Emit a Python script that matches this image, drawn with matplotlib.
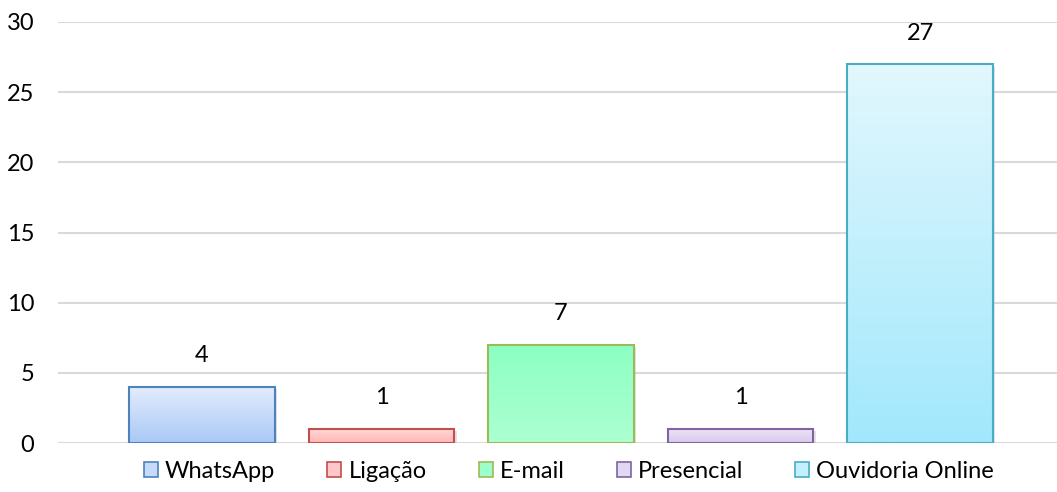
import numpy as np
import matplotlib
matplotlib.use("Agg")
import matplotlib.pyplot as plt
from matplotlib.colors import to_rgb
from matplotlib.patches import Patch

plt.rcParams['font.family'] = ['Lato', 'DejaVu Sans']

categorias = ["WhatsApp", "Ligação", "E-mail", "Presencial", "Ouvidoria Online"]
valores = [4, 1, 7, 1, 27]

# cores (topo, base, borda)
topo = ["#E3ECFB", "#FFD9D9", "#8CFFC2", "#ECE5F6", "#E2F7FE"]
base = ["#A9C9F7", "#FFB5B5", "#ACFFD2", "#D8CAEE", "#A2E8FC"]
borda = ["#4F81BD", "#C0504D", "#9BBB59", "#8064A2", "#4BACC6"]

fig = plt.figure(figsize=(10.57, 4.92), dpi=100)
ax = fig.add_axes([58 / 1057, 49 / 492, 999 / 1057, 421 / 492])

x = np.arange(len(valores))
largura = 0.81

# sombra leve
dx = 2.5 / 179.5
dy = 2.5 / 14.03
ax.bar(x + dx, np.array(valores) - dy, bottom=0, width=largura, color="#BFBFBF",
       alpha=0.45, linewidth=0, zorder=2.2)

bars = ax.bar(x, valores, width=largura, facecolor="none", edgecolor=borda,
              linewidth=1.5, zorder=3)

for b, c1, c2 in zip(bars, topo, base):
    t = np.linspace(0, 1, 64)[:, None]
    grad = (1 - t) * np.array(to_rgb(c1)) + t * np.array(to_rgb(c2))
    img = ax.imshow(grad[:, None, :], extent=(b.get_x(), b.get_x() + b.get_width(), 0, b.get_height()),
                    aspect="auto", origin="upper", zorder=2.5, interpolation="bilinear")
    img.set_clip_path(b)

for xi, v in zip(x, valores):
    ax.annotate(str(v), (xi, v), xytext=(0, 31), textcoords="offset pixels",
                ha="center", va="center", fontsize=17, color="#000000")

ax.set_xlim(-0.802, 4.763)
ax.set_ylim(0, 30)
ax.set_yticks(range(0, 31, 5))
ax.set_xticks([])
ax.yaxis.grid(True, color="#D9D9D9", linewidth=1.5, zorder=0)
ax.set_axisbelow(True)
for s in ax.spines.values():
    s.set_visible(False)
ax.tick_params(axis="y", length=0, pad=17, labelsize=17)

handles = [Patch(facecolor=c, edgecolor=e, linewidth=1.2) for c, e in
           zip(["#C6DAF9", "#FFC7C7", "#9CFFCA", "#E2D8F2", "#C2F0FD"], borda)]
fig.legend(handles, categorias, loc="center", bbox_to_anchor=(569 / 1057, 1 - 471 / 492),
           ncol=5, frameon=False, fontsize=17, handlelength=0.6, handleheight=0.6,
           handletextpad=0.3, columnspacing=2.2)

fig.savefig("out.png", dpi=100)
